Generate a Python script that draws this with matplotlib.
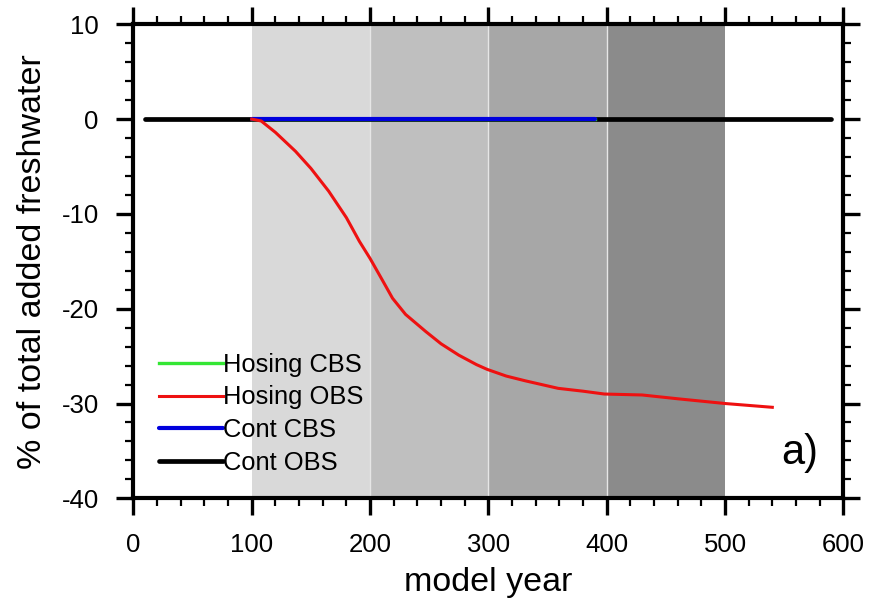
import matplotlib
matplotlib.use("Agg")
import matplotlib.pyplot as plt
from matplotlib.ticker import MultipleLocator

plt.rcParams["font.family"] = ["Liberation Sans", "DejaVu Sans"]
plt.rcParams["axes.unicode_minus"] = False

# Freshwater anomaly (% of total added freshwater) vs model year
hosing_obs_year = [100, 108, 120, 137, 150, 165, 180, 191, 200, 210, 219, 230,
                   247, 260, 275, 290, 299, 315, 331, 345, 359, 380, 398,
                   430, 460, 500, 540]
hosing_obs_val = [0.0, -0.2, -1.4, -3.4, -5.2, -7.6, -10.4, -12.9, -14.7,
                  -16.9, -18.9, -20.6, -22.4, -23.7, -24.9, -25.9, -26.4,
                  -27.1, -27.6, -28.0, -28.4, -28.7, -29.0, -29.1, -29.5,
                  -30.0, -30.4]

hosing_cbs_year = [100, 390]
hosing_cbs_val = [0.0, 0.0]

cont_cbs_year = [100, 390]
cont_cbs_val = [0.0, 0.0]

cont_obs_year = [10, 590]
cont_obs_val = [0.0, 0.0]

# Shaded century bands
band_edges = [100, 200, 300, 400, 500]
band_colors = ["#d9d9d9", "#bfbfbf", "#a7a7a7", "#8b8b8b"]

fig = plt.figure(figsize=(8.7, 6.06), dpi=100)
ax = fig.add_axes([0.1534, 0.1777, 0.8159, 0.7822])

for i, c in enumerate(band_colors):
    ax.axvspan(band_edges[i], band_edges[i + 1], color=c, lw=0, zorder=0)
for e in band_edges[1:-1]:
    ax.axvline(e, color="#e6e6e6", lw=1.0, zorder=0.5)

ax.plot(cont_obs_year, cont_obs_val, color="black", lw=3.4,
        solid_capstyle="round", label="Cont OBS", zorder=2)
ax.plot(hosing_cbs_year, hosing_cbs_val, color="#33e633", lw=2.4,
        label="Hosing CBS", zorder=2.5)
ax.plot(cont_cbs_year, cont_cbs_val, color="#0000dd", lw=3.0,
        solid_capstyle="round", label="Cont CBS", zorder=3)
ax.plot(hosing_obs_year, hosing_obs_val, color="#ee1111", lw=2.2,
        label="Hosing OBS", zorder=4)

ax.set_xlim(0, 600)
ax.set_ylim(-40, 10)

ax.xaxis.set_major_locator(MultipleLocator(100))
ax.xaxis.set_minor_locator(MultipleLocator(20))
ax.yaxis.set_major_locator(MultipleLocator(10))
ax.yaxis.set_minor_locator(MultipleLocator(2))

ax.tick_params(which="both", direction="out", top=True, right=True,
               labeltop=False, labelright=False)
ax.tick_params(which="major", length=12, width=2.4, labelsize=18.5)
ax.tick_params(axis="y", which="major", pad=13)
ax.tick_params(axis="x", which="major", pad=13)
ax.tick_params(which="minor", length=5.5, width=1.6)

for s in ax.spines.values():
    s.set_linewidth(3.0)

ax.set_xlabel("model year", fontsize=24.5, labelpad=7)
ax.set_ylabel("% of total added freshwater", fontsize=24.5, labelpad=10)

handles, labels = ax.get_legend_handles_labels()
order = ["Hosing CBS", "Hosing OBS", "Cont CBS", "Cont OBS"]
hmap = dict(zip(labels, handles))
ax.legend([hmap[k] for k in order], order, loc="upper left",
          bbox_to_anchor=(0.036, 0.307), frameon=False, fontsize=18.4,
          handlelength=2.5, handletextpad=0.0, labelspacing=0.34,
          borderaxespad=0, borderpad=0)

ax.text(563, -35.2, "a)", fontsize=30, ha="center", va="center")

fig.savefig("out.png", dpi=100)
